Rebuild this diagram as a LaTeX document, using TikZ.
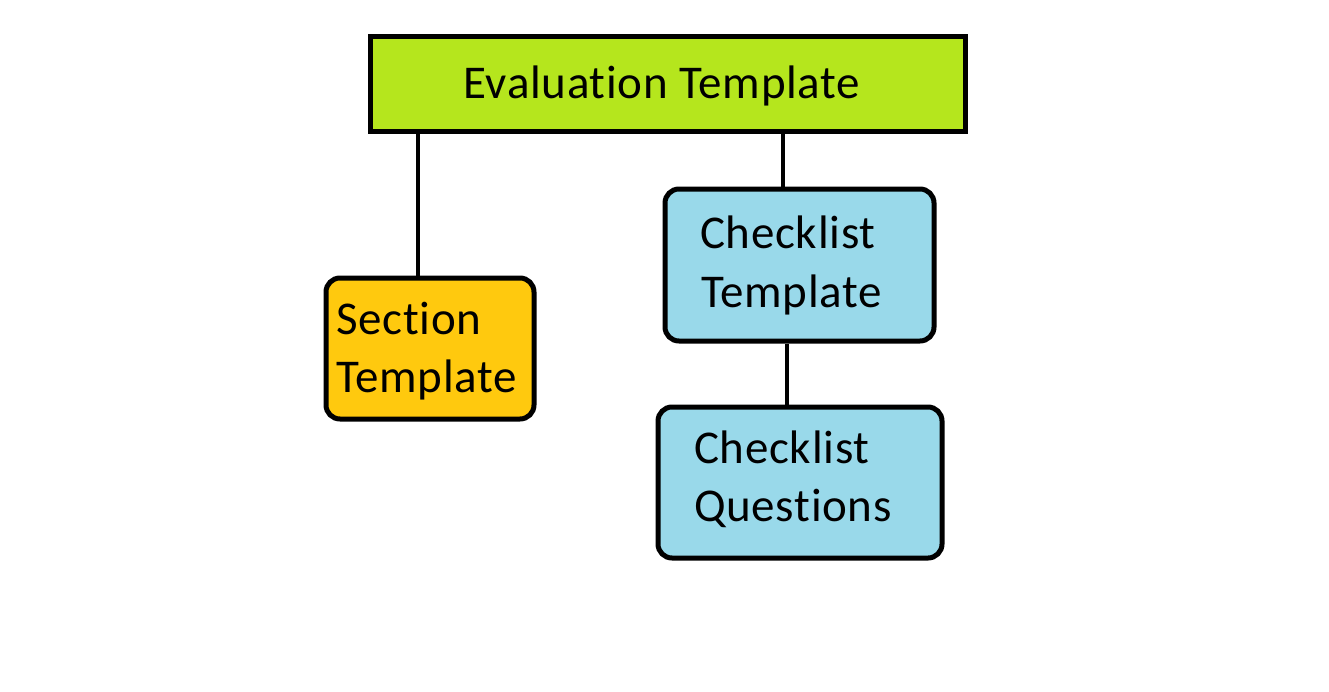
\documentclass[tikz,border=0pt]{standalone}
\usepackage{fontspec}
\setmainfont{Carlito}[Ligatures=NoCommon,LetterSpace=1.5]
\definecolor{evalgreen}{HTML}{B5E61D}
\definecolor{secorange}{HTML}{FFC90E}
\definecolor{checkblue}{HTML}{99D9EA}
\begin{document}
\begin{tikzpicture}[x=1pt,y=-1pt,
  box/.style={draw=black,line width=5pt,inner sep=0pt,minimum width=#1},
  rbox/.style={box=#1,rounded corners=14pt},
  txt/.style={anchor=base west,inner sep=0pt,font=\fontsize{47}{57}\selectfont,text=black},
  link/.style={draw=black,line width=4.5pt}]
\useasboundingbox (0,0) rectangle (1329,691);
\fill[white] (0,0) rectangle (1329,691);
% boxes
\node[box=595pt,minimum height=95pt,fill=evalgreen] (eval) at (667.5,83.5) {};
\node[rbox=208pt,minimum height=141pt,fill=secorange] (sec) at (430,348.5) {};
\node[rbox=269pt,minimum height=152pt,fill=checkblue] (ct) at (799.5,265) {};
\node[rbox=284pt,minimum height=151pt,fill=checkblue] (cq) at (800,482.5) {};
% texts
\node[txt] (t1) at (463,98) {Evaluation Template};
\node[txt] (t2) at (336,334) {Section};
\node[txt] (t3) at (336,392) {Template};
\node[txt] (t4) at (700,248) {Checklist};
\node[txt] (t5) at (701,307) {Template};
\node[txt] (t6) at (694,463) {Checklist};
\node[txt] (t7) at (694,521) {Questions};
% connectors
\coordinate (c1) at (418,0);
\coordinate (c2) at (783,0);
\coordinate (c3) at (787,0);
\draw[link] (eval.south -| c1) -- (sec.north -| c1);
\draw[link] (eval.south -| c2) -- (ct.north -| c2);
\draw[link] (ct.south -| c3) -- (cq.north -| c3);
\end{tikzpicture}
\end{document}
